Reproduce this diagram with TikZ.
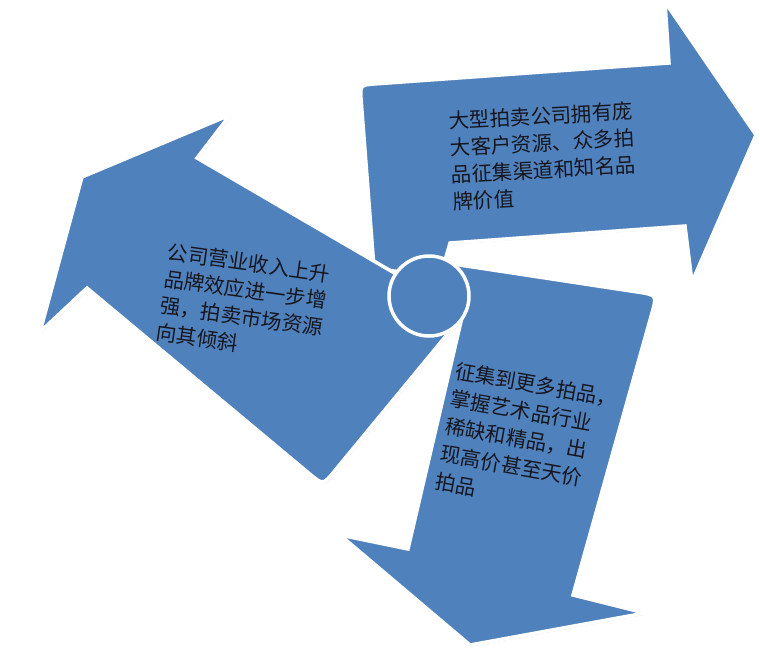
\documentclass[tikz,border=0pt]{standalone}
\usepackage{fontspec}
\newfontfamily\cjk{Noto Sans CJK SC}
\usetikzlibrary{calc,shadows}
\definecolor{arrowblue}{RGB}{79,129,189}
\definecolor{txtcol}{RGB}{22,22,30}
\begin{document}
\begin{tikzpicture}[x=1pt,y=-1pt,
  arrowshape/.style={fill=arrowblue, draw=white, line width=3.5pt, line join=miter,
    drop shadow={shadow xshift=1pt, shadow yshift=-1.5pt, opacity=0.3, fill=black!60}},
  boxtext/.style={font=\cjk\fontsize{20.5}{27}\selectfont, text=txtcol, align=left,
    anchor=north west, inner sep=0pt}]
\useasboundingbox (0,0) rectangle (760,657);

% named points of the right arrow
\coordinate (ra1) at (440,278);
\coordinate (ra2) at (374,268);
\coordinate (ratl) at (360,85);
\coordinate (ra3) at (669,63);
\coordinate (ra4) at (665,2);
\coordinate (ra5) at (756,135);
\coordinate (ra6) at (692,282);
\coordinate (ra7) at (685,226);
\coordinate (ra8) at (450,243);
% bottom arrow
\coordinate (ba1) at (440,262);
\coordinate (batr) at (657,295);
\coordinate (ba3) at (573,595);
\coordinate (ba4) at (645,613);
\coordinate (ba5) at (470,645);
\coordinate (ba6) at (340,535);
\coordinate (ba7) at (408,549);
\coordinate (ba8) at (466,300);
% left arrow
\coordinate (la1) at (197,158);
\coordinate (la2) at (415,285);
\coordinate (la3) at (450,331);
\coordinate (labr) at (323,485);
\coordinate (la4) at (87,288);
\coordinate (la5) at (40,332);
\coordinate (la6) at (82,177);
\coordinate (la7) at (230,115);

% right arrow
\path[arrowshape] (ra1) -- (ra2) -- ($(ratl)!16pt!(ra2)$) .. controls (ratl) .. ($(ratl)!16pt!(ra3)$)
  -- (ra3) -- (ra4) -- (ra5) -- (ra6) -- (ra7) -- (ra8) -- cycle;
% bottom arrow
\path[arrowshape] (ba1) -- ($(batr)!20pt!(ba1)$) .. controls (batr) .. ($(batr)!20pt!(ba3)$)
  -- (ba3) -- (ba4) -- (ba5) -- (ba6) -- (ba7) -- (ba8) -- cycle;
% left arrow
\path[arrowshape] (la1) -- (la2) -- (la3) -- ($(labr)!18pt!(la3)$) .. controls (labr) .. ($(labr)!18pt!(la4)$)
  -- (la4) -- (la5) -- (la6) -- (la7) -- cycle;
% centre circle
\path[arrowshape] (429,296) circle [radius=40];

% texts
\node[boxtext, rotate=3] (tright) at (448,111)
  {大型拍卖公司拥有庞\\大客户资源、众多拍\\品征集渠道和知名品\\牌价值};
\node[boxtext, rotate=-8] (tleft) at (169,242)
  {公司营业收入上升\\品牌效应进一步增\\强，拍卖市场资源\\向其倾斜};
\node[boxtext, rotate=-10, font=\cjk\fontsize{20.5}{28}\selectfont] (tbottom) at (457,361)
  {征集到更多拍品，\\掌握艺术品行业\\稀缺和精品，出\\现高价甚至天价\\拍品};
\end{tikzpicture}
\end{document}
